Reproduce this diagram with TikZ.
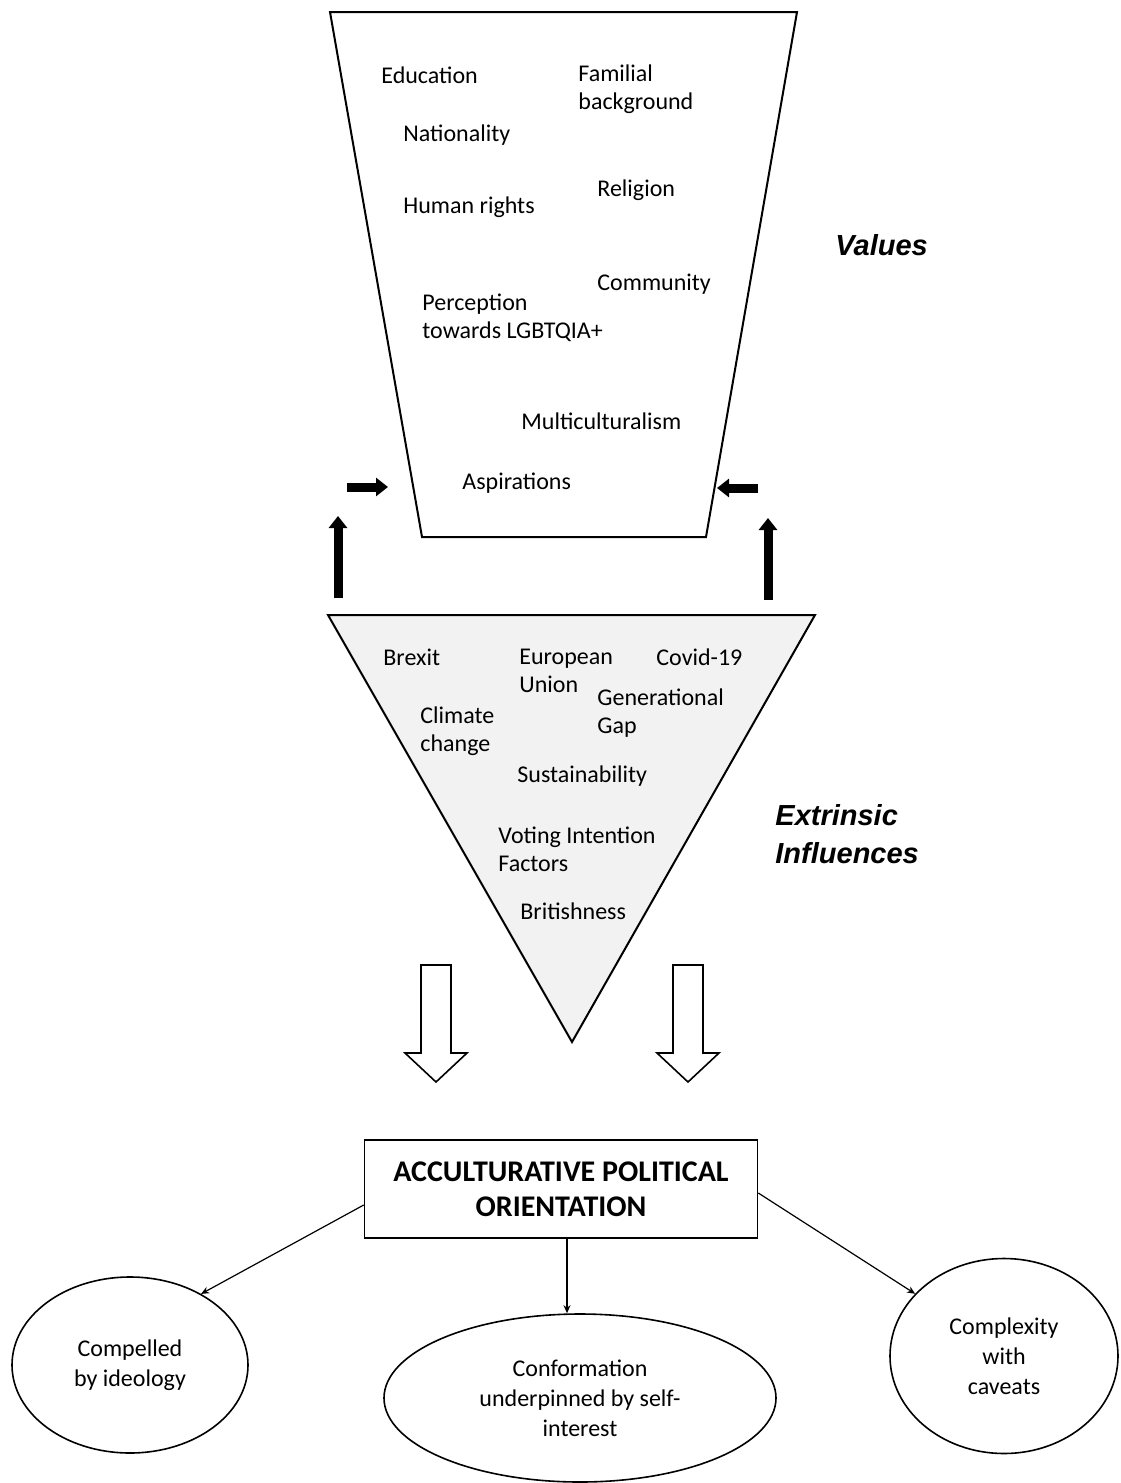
\documentclass[tikz,border=0pt]{standalone}
\usepackage{fontspec}
\setmainfont{Carlito}
\newfontfamily\headfont{Liberation Sans}
\usetikzlibrary{arrows.meta,shapes.geometric}

\begin{document}
\begin{tikzpicture}[x=0.5pt,y=-0.5pt,
    item/.style={anchor=west,align=left,inner sep=0pt,font=\fontsize{12}{14}\selectfont},
    side/.style={anchor=west,align=left,inner sep=0pt,font=\headfont\bfseries\itshape\fontsize{14.5}{19}\selectfont},
    blk/.style={line width=4.5pt,-{Triangle[length=6pt,width=9pt]}},
    hollow/.style={draw,line width=0.8pt,fill=white,line join=miter},
    conn/.style={line width=0.6pt,-{Stealth[length=4pt,width=3.5pt]}},
    oval/.style={ellipse,draw,line width=0.8pt,align=center,inner sep=0pt,font=\fontsize{12}{15}\selectfont}]
    \useasboundingbox (0,0) rectangle (1120,1483);

    \draw[line width=1pt] (330,12) -- (797,12) -- (706,537) -- (422,537) -- cycle;
    \node[item] (edu) at (381,75) {Education};
    \node[item] (fam) at (578,89) {Familial\\background};
    \node[item] (nat) at (403,135) {Nationality};
    \node[item] (rel) at (597,190) {Religion};
    \node[item] (hum) at (403,207) {Human rights};
    \node[item] (com) at (597,284) {Community};
    \node[item] (lgb) at (422,318) {Perception\\towards LGBTQIA+};
    \node[item] (mul) at (521,421) {Multiculturalism};
    \node[item] (asp) at (462,483) {Aspirations};
    \node[side] (val) at (835,245) {Values};

    \coordinate (hl1) at (347,487); \coordinate (hl2) at (388,487);
    \coordinate (hr1) at (758,488); \coordinate (hr2) at (717,488);
    \coordinate (vl1) at (338,598); \coordinate (vl2) at (338,516);
    \coordinate (vr1) at (768,600); \coordinate (vr2) at (768,518);
    \draw[blk] (hl1) -- (hl2);
    \draw[blk] (hr1) -- (hr2);
    \draw[blk] (vl1) -- (vl2);
    \draw[blk] (vr1) -- (vr2);

    \draw[line width=1pt,fill=black!5] (328,615) -- (815,615) -- (572,1042) -- cycle;
    \node[item] (brx) at (383,657) {Brexit};
    \node[item] (eu) at (519,671) {European\\Union};
    \node[item] (cov) at (656,657) {Covid-19};
    \node[item] (gen) at (597,713) {Generational\\Gap};
    \node[item] (cli) at (420,731) {Climate\\change};
    \node[item] (sus) at (517,776) {Sustainability};
    \node[item] (vot) at (498,849) {Voting Intention\\Factors};
    \node[item] (bri) at (520,911) {Britishness};
    \node[side] (ext) at (775,834) {Extrinsic\\Influences};

    \foreach \cx in {436,688}
        \draw[hollow] ({\cx-15},965) -- ({\cx+15},965) -- ({\cx+15},1053) -- ({\cx+31},1053)
            -- (\cx,1082) -- ({\cx-31},1053) -- ({\cx-15},1053) -- cycle;

    \node[draw,line width=0.8pt,minimum width=196.5pt,minimum height=49pt,align=center,
        font=\bfseries\fontsize{15}{17.5}\selectfont] (aco) at (561,1189)
        {ACCULTURATIVE POLITICAL\\ORIENTATION};

    \node[oval,minimum width=118pt,minimum height=88pt] (cbi) at (130,1365) {Compelled\\by ideology};
    \node[oval,minimum width=196pt,minimum height=84pt] (cui) at (580,1398) {Conformation\\underpinned by self-\\interest};
    \node[oval,minimum width=114pt,minimum height=97.5pt] (cwc) at (1004,1356) {Complexity\\with\\caveats};

    \draw[conn] ([yshift=-8pt]aco.west) -- (cbi.45);
    \draw[conn] ([xshift=3pt]aco.south) -- ([xshift=3pt]aco.south |- cui.north);
    \draw[conn] ([yshift=-2pt]aco.east) -- (cwc.145);
\end{tikzpicture}
\end{document}
